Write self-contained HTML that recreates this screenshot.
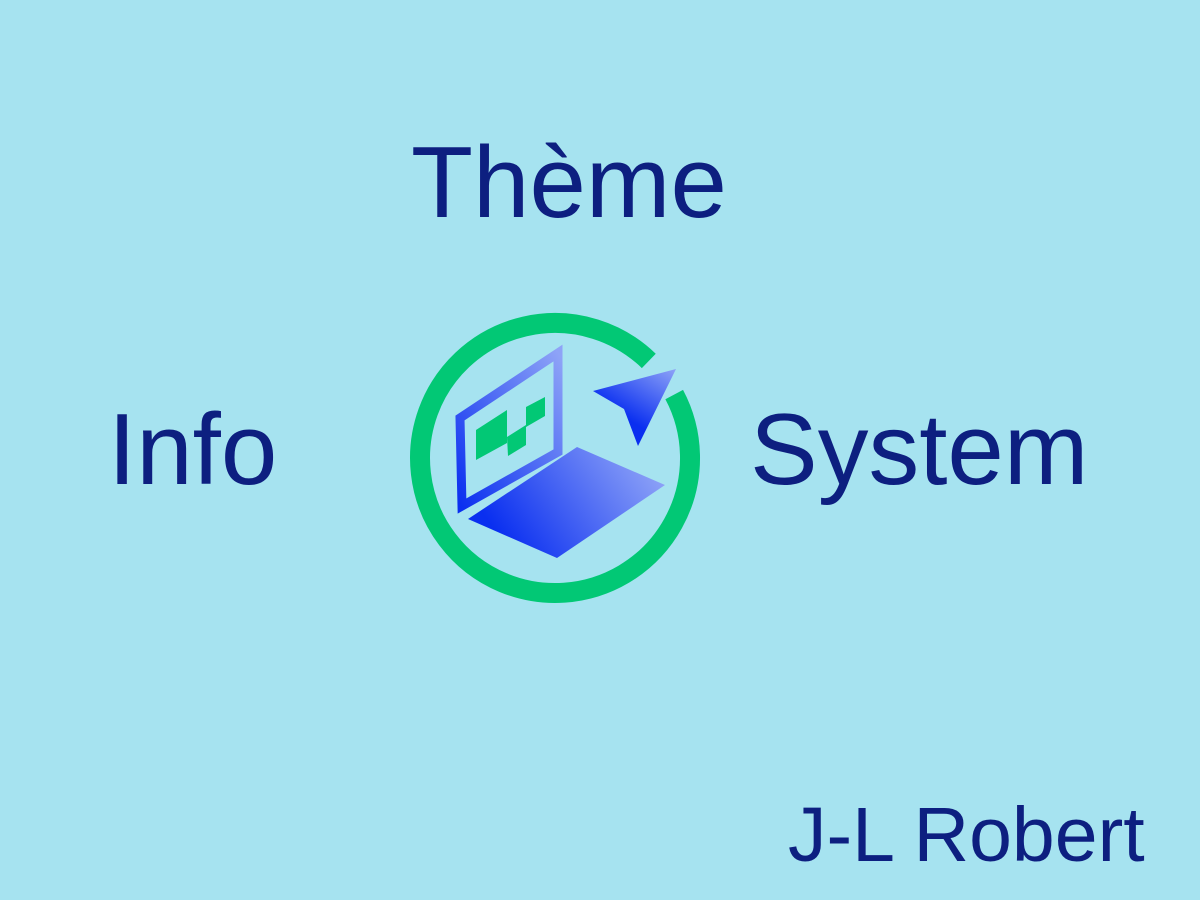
<!DOCTYPE html>
<html><head><meta charset="utf-8"><style>
html,body{margin:0;padding:0;}
body{width:1200px;height:900px;background:#a6e3f0;position:relative;overflow:hidden;font-family:"Liberation Sans",Arial,sans-serif;color:#0d1f80;}
.t{position:absolute;white-space:nowrap;line-height:1;}
</style></head><body>
<svg width="1200" height="900" style="position:absolute;left:0;top:0">
<defs>
<linearGradient id="g1" x1="0" y1="1" x2="1" y2="0">
<stop offset="0" stop-color="#0a2ff0"/><stop offset="1" stop-color="#8ea3f7"/></linearGradient>
<linearGradient id="g2" x1="0" y1="0.7" x2="1" y2="0.3">
<stop offset="0.1" stop-color="#0a2ff0"/><stop offset="1" stop-color="#8ea3f7"/></linearGradient>
<linearGradient id="g3" x1="0.4" y1="0.9" x2="1" y2="0">
<stop offset="0.2" stop-color="#0a2ff0"/><stop offset="1" stop-color="#8ea3f7"/></linearGradient>
</defs>
<path d="M 674.2 394.6 A 135 135 0 1 1 648.8 360.9" fill="none" stroke="#02c875" stroke-width="20"/>
<polygon points="460,418 558,353 558,452 462,506" fill="none" stroke="url(#g1)" stroke-width="9"/>
<polygon points="476,430 507,410 507,443 476,460" fill="#02c875"/>
<polygon points="507,437 526,425 526,445 508,456" fill="#02c875"/>
<polygon points="526,407 545,397 545,416 526,427" fill="#02c875"/>
<polygon points="468,519 577,447 665,485 557,558" fill="url(#g2)"/>
<polygon points="593,391 676,369 638,446 624,409" fill="url(#g3)"/>
</svg>
<div class="t" style="left:411px;top:132px;font-size:101.5px;">Thème</div>
<div class="t" style="left:108px;top:399px;font-size:101.5px;">Info</div>
<div class="t" style="left:750px;top:399px;font-size:101.5px;">System</div>
<div class="t" style="left:788px;top:797px;font-size:77px;">J-L Robert</div>
</body></html>
